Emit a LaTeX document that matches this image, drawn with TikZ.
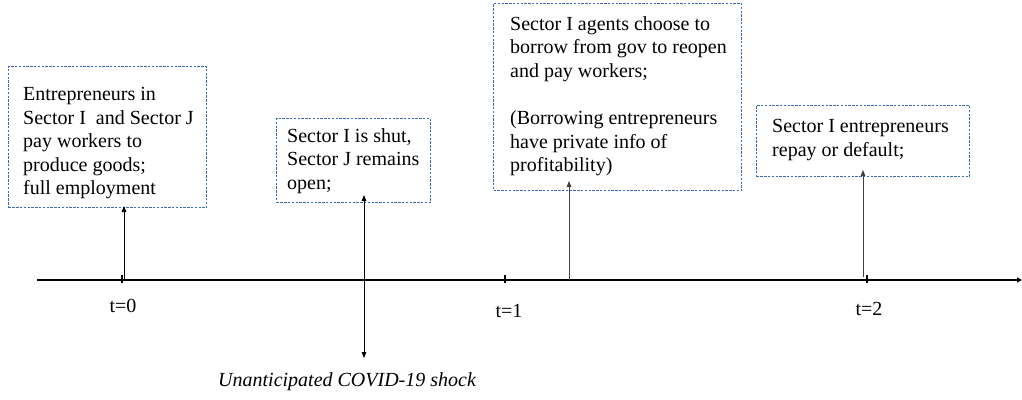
\documentclass[tikz,border=0pt]{standalone}
\usepackage{fontspec}
\setmainfont{Liberation Serif}
\usetikzlibrary{arrows.meta}
\definecolor{boxblue}{HTML}{3A6BB0}
\tikzset{
  x=1pt,y=-1pt,
  evbox/.style={draw=boxblue, line width=1pt, dash pattern=on 2.4pt off 1.4pt, inner sep=0pt, anchor=north west},
  evtext/.style={anchor=north west, inner sep=0pt, align=left, font=\fontsize{20}{23.6}\selectfont},
  tlabel/.style={inner sep=0pt, font=\fontsize{20}{23}\selectfont},
  tip/.style={-{Triangle[length=6pt,width=4.5pt]}},
  twotip/.style={{Triangle[length=6pt,width=4.5pt]}-{Triangle[length=6pt,width=4.5pt]}},
  tick/.style={line width=2pt},
}
\begin{document}
\begin{tikzpicture}
\useasboundingbox (0,0) rectangle (1022,399);
% axis
\coordinate (a0) at (37,280);
\coordinate (a1) at (1022,280);
\draw[line width=1.6pt, -{Triangle[length=5pt,width=5pt]}] (a0) -- (a1);
% ticks
\coordinate (k0) at (122,280);
\coordinate (k1) at (505,280);
\coordinate (k2) at (867,280);
\foreach \k in {k0,k1,k2} \draw[tick] ([yshift=-3pt]\k) -- ([yshift=5pt]\k);
\node[tlabel] (l0) at (123,306) {t=0};
\node[tlabel] (l1) at (509,311) {t=1};
\node[tlabel] (l2) at (869,309) {t=2};
% boxes
\node[evbox, minimum width=198pt, minimum height=141pt] (b1) at (8,66) {};
\node[evtext] (t1) at (23,87) {Entrepreneurs in\\Sector I\ \ and Sector J\\pay workers to\\produce goods;\\full employment};
\node[evbox, minimum width=154pt, minimum height=84pt] (b2) at (276,118) {};
\node[evtext] (t2) at (287,128) {Sector I is shut,\\Sector J remains\\open;};
\node[evbox, minimum width=248pt, minimum height=187pt] (b3) at (493,3) {};
\node[evtext] (t3) at (510,16) {Sector I agents choose to\\borrow from gov to reopen\\and pay workers;\\[23.6pt](Borrowing entrepreneurs\\have private info of\\profitability)};
\node[evbox, minimum width=213pt, minimum height=71pt] (b4) at (756,105) {};
\node[evtext] (t4) at (772,119) {Sector I entrepreneurs\\repay or default;};
% arrows
\coordinate (p1) at (124,280);
\draw[tip, line width=0.8pt] (p1) -- ([yshift=2pt]b1.south -| p1);
\coordinate (p2) at (364,358);
\draw[twotip, line width=0.8pt] (p2) -- ([yshift=8pt]b2.south -| p2);
\coordinate (p3) at (569,280);
\draw[tip, draw=black!75, line width=0.8pt] (p3) -- ([yshift=10pt]b3.south -| p3);
\coordinate (p4) at (863,277);
\draw[tip, draw=black!75, line width=0.8pt] (p4) -- ([yshift=7pt]b4.south -| p4);
\node[tlabel, anchor=west, font=\fontsize{20}{23}\itshape] (cv) at (218,382) {Unanticipated COVID-19 shock};
\end{tikzpicture}
\end{document}
